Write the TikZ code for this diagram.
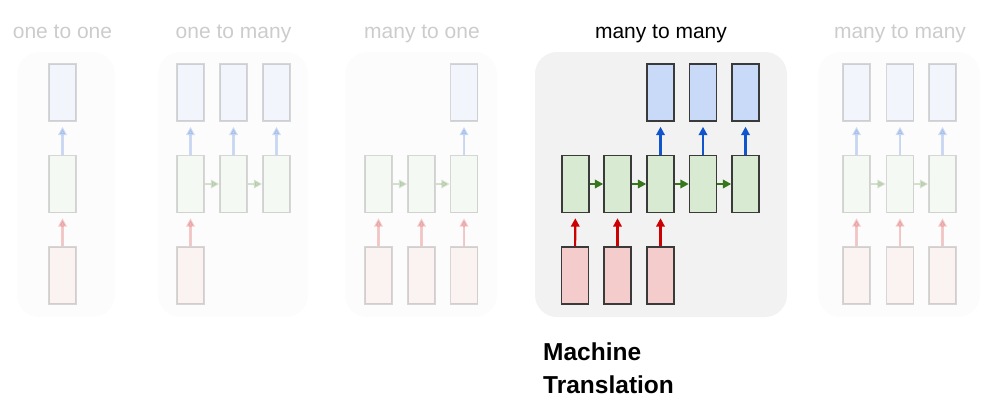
\documentclass[tikz,border=0pt]{standalone}
\usepackage{fontspec}
\setmainfont{Liberation Sans}
\usetikzlibrary{arrows.meta}
\definecolor{outfill}{HTML}{C9DAF8}
\definecolor{hidfill}{HTML}{D9EAD3}
\definecolor{infill}{HTML}{F4CCCC}
\definecolor{outarrow}{HTML}{1155CC}
\definecolor{hidarrow}{HTML}{38761D}
\definecolor{inarrow}{HTML}{CC0000}
\definecolor{boxline}{HTML}{3A3A3A}
\definecolor{panelbg}{HTML}{F2F2F2}
\begin{document}
\begin{tikzpicture}[x=1pt,y=-1pt,
  cell/.style={draw=boxline,line width=1.4pt,minimum width=27pt,minimum height=57pt,inner sep=0pt},
  outbox/.style={cell,fill=outfill},
  hidbox/.style={cell,fill=hidfill},
  inbox/.style={cell,fill=infill},
  arr/.style={line width=2.1pt,-{Triangle[length=8.5pt,width=8.5pt]}},
  upin/.style={arr,draw=inarrow,fill=inarrow,shorten >=5pt},
  upout/.style={arr,draw=outarrow,fill=outarrow,shorten >=5pt},
  rightarr/.style={arr,draw=hidarrow,fill=hidarrow},
  panel/.style={fill=panelbg,rounded corners=22pt},
  title/.style={font=\fontsize{21}{24}\selectfont,anchor=base,inner sep=0pt},
  faded/.style={opacity=0.2},
  caption/.style={font=\bfseries\fontsize{24.5}{28}\selectfont,anchor=base west,inner sep=0pt}]
\useasboundingbox (0,0) rectangle (998,400);

% one to one
\begin{scope}[faded]
\fill[panel] (17,52) rectangle (115,317);
\node[title] (t1) at (62.5,38) {one to one};
\node[outbox] (a1o) at (62.5,92.5) {};
\node[hidbox] (a1h) at (62.5,184) {};
\node[inbox] (a1i) at (62.5,275.5) {};
\draw[upin] (a1i) -- (a1h);
\draw[upout] (a1h) -- (a1o);
\end{scope}

% one to many
\begin{scope}[faded]
\fill[panel] (158,52) rectangle (308,317);
\node[title] (t2) at (233.5,38) {one to many};
\node[outbox] (b1o) at (190.5,92.5) {};
\node[outbox] (b2o) at (233.5,92.5) {};
\node[outbox] (b3o) at (276.5,92.5) {};
\node[hidbox] (b1h) at (190.5,184) {};
\node[hidbox] (b2h) at (233.5,184) {};
\node[hidbox] (b3h) at (276.5,184) {};
\node[inbox] (b1i) at (190.5,275.5) {};
\draw[upin] (b1i) -- (b1h);
\draw[upout] (b1h) -- (b1o);
\draw[upout] (b2h) -- (b2o);
\draw[upout] (b3h) -- (b3o);
\draw[rightarr] (b1h) -- (b2h);
\draw[rightarr] (b2h) -- (b3h);
\end{scope}

% many to one
\begin{scope}[faded]
\fill[panel] (345,52) rectangle (497,317);
\node[title] (t3) at (422,38) {many to one};
\node[outbox] (c3o) at (464,92.5) {};
\node[hidbox] (c1h) at (378.5,184) {};
\node[hidbox] (c2h) at (421.5,184) {};
\node[hidbox] (c3h) at (464,184) {};
\node[inbox] (c1i) at (378.5,275.5) {};
\node[inbox] (c2i) at (421.5,275.5) {};
\node[inbox] (c3i) at (464,275.5) {};
\draw[upin] (c1i) -- (c1h);
\draw[upin] (c2i) -- (c2h);
\draw[upin] (c3i) -- (c3h);
\draw[upout] (c3h) -- (c3o);
\draw[rightarr] (c1h) -- (c2h);
\draw[rightarr] (c2h) -- (c3h);
\end{scope}

% many to many (highlighted)
\fill[panel] (535,52) rectangle (787,317);
\node[title] (t4) at (661,38) {many to many};
\node[outbox] (d3o) at (660.5,92.5) {};
\node[outbox] (d4o) at (703,92.5) {};
\node[outbox] (d5o) at (745.5,92.5) {};
\node[hidbox] (d1h) at (575.5,184) {};
\node[hidbox] (d2h) at (617.5,184) {};
\node[hidbox] (d3h) at (660.5,184) {};
\node[hidbox] (d4h) at (703,184) {};
\node[hidbox] (d5h) at (745.5,184) {};
\node[inbox] (d1i) at (575,275.5) {};
\node[inbox] (d2i) at (617.5,275.5) {};
\node[inbox] (d3i) at (660.5,275.5) {};
\draw[upin] (d1i) -- (d1h);
\draw[upin] (d2i) -- (d2h);
\draw[upin] (d3i) -- (d3h);
\draw[upout] (d3h) -- (d3o);
\draw[upout] (d4h) -- (d4o);
\draw[upout] (d5h) -- (d5o);
\draw[rightarr] (d1h) -- (d2h);
\draw[rightarr] (d2h) -- (d3h);
\draw[rightarr] (d3h) -- (d4h);
\draw[rightarr] (d4h) -- (d5h);

% many to many (synced)
\begin{scope}[faded]
\fill[panel] (818,52) rectangle (980,317);
\node[title] (t5) at (900,38) {many to many};
\node[outbox] (e1o) at (856.5,92.5) {};
\node[outbox] (e2o) at (900,92.5) {};
\node[outbox] (e3o) at (942.5,92.5) {};
\node[hidbox] (e1h) at (856.5,184) {};
\node[hidbox] (e2h) at (900,184) {};
\node[hidbox] (e3h) at (942.5,184) {};
\node[inbox] (e1i) at (856.5,275.5) {};
\node[inbox] (e2i) at (900,275.5) {};
\node[inbox] (e3i) at (942.5,275.5) {};
\draw[upin] (e1i) -- (e1h);
\draw[upin] (e2i) -- (e2h);
\draw[upin] (e3i) -- (e3h);
\draw[upout] (e1h) -- (e1o);
\draw[upout] (e2h) -- (e2o);
\draw[upout] (e3h) -- (e3o);
\draw[rightarr] (e1h) -- (e2h);
\draw[rightarr] (e2h) -- (e3h);
\end{scope}

% caption
\node[caption] (cap1) at (543,360) {Machine};
\node[caption] (cap2) at (543,393) {Translation};
\end{tikzpicture}
\end{document}
